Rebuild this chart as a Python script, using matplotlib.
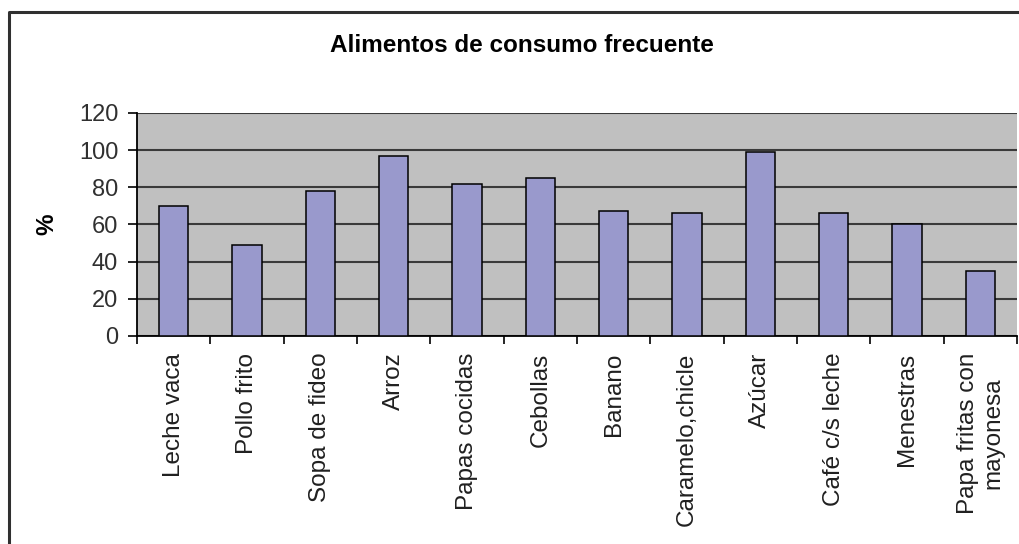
import matplotlib
matplotlib.use('Agg')
import matplotlib.pyplot as plt
from matplotlib.lines import Line2D
import numpy as np

plt.rcParams['font.family'] = ['Liberation Sans', 'DejaVu Sans']

alimentos = ['Leche vaca', 'Pollo frito', 'Sopa de fideo', 'Arroz', 'Papas cocidas',
             'Cebollas', 'Banano', 'Caramelo,chicle', 'Azúcar', 'Café c/s leche',
             'Menestras', 'Papa fritas con\nmayonesa']
porcentaje = [70, 49, 78, 97, 82, 85, 67, 66, 99, 66, 60, 35]
yticks = [0, 20, 40, 60, 80, 100, 120]

fig = plt.figure(figsize=(10.19, 5.44), dpi=100)
ax = fig.add_axes([0.1344, 0.3824, 0.8636, 0.41])

x = np.arange(len(alimentos))
ax.set_facecolor('#c0c0c0')
ax.bar(x, porcentaje, width=0.4, color='#9999cc', edgecolor='black', linewidth=1.1, zorder=3)

ax.set_xlim(-0.5, len(alimentos) - 0.5)
ax.set_ylim(0, 120)
ax.set_yticks(yticks)
ax.yaxis.grid(True, color='#3a3a3a', linewidth=1.5, zorder=1)
ax.set_axisbelow(True)

# labels centred under bars, tick marks between categories
ax.set_xticks(x)
ax.set_xticklabels(alimentos, rotation=90, va='top', ha='center', multialignment='center')
ax.set_xticks(np.arange(len(alimentos) + 1) - 0.5, minor=True)
ax.tick_params(axis='x', which='major', length=0, pad=12, labelsize=17.5, labelcolor='#202020')
ax.tick_params(axis='x', which='minor', length=6, width=1.2, direction='out', color='black')
ax.tick_params(axis='y', length=6.5, width=1.2, direction='out', pad=7, labelsize=17,
               labelcolor='#303030')

for s in ['top', 'right']:
    ax.spines[s].set_visible(False)
ax.spines['left'].set_linewidth(1.3)
ax.spines['bottom'].set_linewidth(1.3)

ax.set_ylabel('%', fontsize=17.5, fontweight='bold', labelpad=15)

fig.text(0.512, 0.917, 'Alimentos de consumo frecuente', ha='center', va='center',
         fontsize=17.5, fontweight='bold')

# chart frame (only left and top edges fall inside the image)
fig.add_artist(Line2D([0.0092, 0.0092, 1.0], [0.0, 0.9775, 0.9775], color='#303030',
                      linewidth=2.2, transform=fig.transFigure))

fig.savefig('out.png', dpi=100)
